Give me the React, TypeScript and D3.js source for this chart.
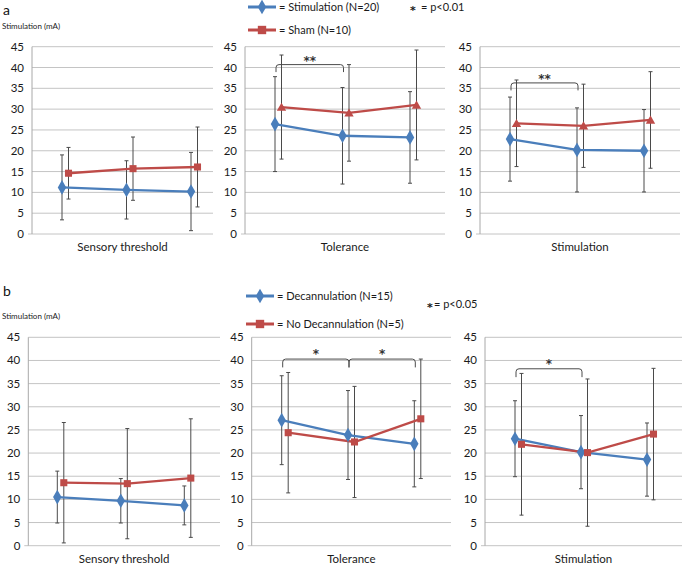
import React from "react";
import * as d3 from "d3";

const categories = ["Sensory threshold", "Tolerance", "Stimulation"];
const yTicks = [0, 5, 10, 15, 20, 25, 30, 35, 40, 45];

// Panel a: Stimulation vs Sham — [panel][timepoint]
const groupsA = ["= Stimulation (N=20)", "= Sham (N=10)"];
const aStimMeans = [[11.2, 10.6, 10.2], [26.4, 23.6, 23.2], [22.8, 20.2, 20.0]];
const aStimSD = [[7.8, 7.0, 9.4], [11.4, 11.6, 11.0], [10.1, 10.1, 9.9]];
const aShamMeans = [[14.6, 15.7, 16.1], [30.5, 29.1, 31.0], [26.6, 26.0, 27.4]];
const aShamSD = [[6.2, 7.6, 9.6], [12.5, 11.6, 13.2], [10.4, 10.0, 11.6]];
const aSigText = "= p<0.01";

// Panel b: Decannulation vs No decannulation
const groupsB = ["= Decannulation (N=15)", "= No Decannulation (N=5)"];
const bDecMeans = [[10.5, 9.7, 8.7], [27.1, 23.9, 22.0], [23.1, 20.2, 18.6]];
const bDecSD = [[5.6, 4.8, 4.2], [9.6, 9.6, 9.3], [8.2, 7.9, 7.9]];
const bNoMeans = [[13.6, 13.4, 14.6], [24.4, 22.4, 27.4], [21.9, 20.1, 24.1]];
const bNoSD = [[13.0, 11.9, 12.8], [13.0, 12.0, 12.9], [15.3, 15.9, 14.2]];
const bSigText = "= p<0.05";

// significance brackets: subplot, from/to timepoint, level, label
const aBrackets = [
  { sub: 1, from: 0, to: 1, level: 40.7, label: "**" },
  { sub: 2, from: 0, to: 1, level: 36.3, label: "**" },
];
const bBrackets = [
  { sub: 1, from: 0, to: 1, level: 40.3, label: "*" },
  { sub: 1, from: 1, to: 2, level: 40.3, label: "*" },
  { sub: 2, from: 0, to: 1, level: 38.2, label: "*" },
];

const BLUE = "#4A7EBB";
const RED = "#BE4B48";
const ERR = "#4a4a4a";
const GRID = "#C4C4C4";
const FONT = "Lato, 'Open Sans', sans-serif";
const STAR_FONT = "'DejaVu Sans', sans-serif";

type Sub = { left: number; right: number; start: number; step: number };

const layoutA = {
  top: 46.7,
  bottom: 234,
  subs: [
    { left: 32, right: 213, start: 30, step: 64.5 },
    { left: 245, right: 445, start: 30, step: 67.5 },
    { left: 480, right: 680, start: 30, step: 67 },
  ] as Sub[],
  redShapes: ["square", "triangle", "triangle"],
};
const layoutB = {
  top: 337.3,
  bottom: 545.7,
  subs: [
    { left: 28.3, right: 220, start: 29, step: 63.5 },
    { left: 251.7, right: 451, start: 30, step: 66.3 },
    { left: 485, right: 682, start: 30, step: 66 },
  ] as Sub[],
  redShapes: ["square", "square", "square"],
};
const RED_OFFSET = 6.5;

const diamond = d3.symbol().type(d3.symbolDiamond).size(62)()!;
const square = d3.symbol().type(d3.symbolSquare).size(50)()!;
const triangle = d3.symbol().type(d3.symbolTriangle).size(38)()!;

function Subplot({
  sub, top, bottom, blueM, blueSD, redM, redSD, redShape, catLabel, brackets,
}: any) {
  const y = d3.scaleLinear().domain([0, 45]).range([bottom, top]);
  const xb = d3.scaleLinear().domain([0, 2]).range([sub.left + sub.start, sub.left + sub.start + 2 * sub.step]);
  const xr = (i: number) => xb(i) + RED_OFFSET;
  const line = (xf: (i: number) => number) =>
    d3.line<number>().x((_, i) => xf(i)).y((v) => y(v));
  const cap = 2;
  const err = (xf: (i: number) => number, m: number[], sd: number[], key: string) =>
    m.map((v, i) => {
      const x = xf(i);
      const y1 = y(v + sd[i]);
      const y0 = y(Math.max(0, v - sd[i]));
      return (
        <g key={key + i} stroke={ERR} strokeWidth={1}>
          <line x1={x} x2={x} y1={y1} y2={y0} />
          <line x1={x - cap} x2={x + cap} y1={y1} y2={y1} />
          <line x1={x - cap} x2={x + cap} y1={y0} y2={y0} />
        </g>
      );
    });
  const redPath = redShape === "triangle" ? triangle : square;
  return (
    <g>
      {yTicks.map((t) => (
        <g key={t}>
          <line x1={sub.left} x2={sub.right} y1={y(t)} y2={y(t)} stroke={GRID} strokeWidth={1} />
          <text x={sub.left - 8} y={y(t)} dy="0.35em" textAnchor="end" fontSize={11.5} fill="#1a1a1a" fontFamily={FONT}>
            {t}
          </text>
        </g>
      ))}
      <line x1={sub.left - 4} x2={sub.left} y1={y(0)} y2={y(0)} stroke={GRID} />
      <line x1={sub.left} x2={sub.left} y1={y(45)} y2={y(0)} stroke="#A8A8A8" strokeWidth={1} />
      <text x={(sub.left + sub.right) / 2} y={bottom + 17} textAnchor="middle" fontSize={11.5} fill="#1a1a1a" fontFamily={FONT}>
        {catLabel}
      </text>
      {err(xb, blueM, blueSD, "b")}
      {err(xr, redM, redSD, "r")}
      <path d={line(xb)(blueM)!} fill="none" stroke={BLUE} strokeWidth={2.3} />
      <path d={line(xr)(redM)!} fill="none" stroke={RED} strokeWidth={2.3} />
      {blueM.map((v: number, i: number) => (
        <path key={"bm" + i} d={diamond} transform={`translate(${xb(i)},${y(v)})`} fill={BLUE} />
      ))}
      {redM.map((v: number, i: number) => (
        <path key={"rm" + i} d={redPath} transform={`translate(${xr(i)},${y(v) + (redShape === "triangle" ? 1 : 0)})`} fill={RED} />
      ))}
      {brackets.map((b: any, k: number) => {
        const x1 = xb(b.from) + 1;
        const x2 = xb(b.to) + 1;
        const yl = y(b.level);
        const yt = y(b.level - 1.8);
        const r = 3;
        const d = `M${x1},${yt} L${x1},${yl + r} Q${x1},${yl} ${x1 + r},${yl} L${x2 - r},${yl} Q${x2},${yl} ${x2},${yl + r} L${x2},${yt}`;
        return (
          <g key={"br" + k}>
            <path d={d} fill="none" stroke={ERR} strokeWidth={1} />
            <text x={(x1 + x2) / 2} y={y(b.level + 1.6)} dy="0.55em" textAnchor="middle" fontSize={12} fontWeight="bold" fill="#333" fontFamily={STAR_FONT}>
              {b.label}
            </text>
          </g>
        );
      })}
    </g>
  );
}

function Panel({ layout, blueM, blueSD, redM, redSD, brackets }: any) {
  return (
    <g>
      {layout.subs.map((sub: Sub, p: number) => (
        <Subplot
          key={p}
          sub={sub}
          top={layout.top}
          bottom={layout.bottom}
          blueM={blueM[p]}
          blueSD={blueSD[p]}
          redM={redM[p]}
          redSD={redSD[p]}
          redShape={layout.redShapes[p]}
          catLabel={categories[p]}
          brackets={brackets.filter((b: any) => b.sub === p)}
        />
      ))}
    </g>
  );
}

function Legend({ x, y1, y2, labels, sigX, sigY, sigText, starGap }: any) {
  return (
    <g fontFamily={FONT} fontSize={11} fill="#1a1a1a">
      <line x1={x} x2={x + 28} y1={y1} y2={y1} stroke={BLUE} strokeWidth={3} />
      <path d={diamond} transform={`translate(${x + 14},${y1})`} fill={BLUE} />
      <text x={x + 31} y={y1} dy="0.35em">{labels[0]}</text>
      <line x1={x} x2={x + 28} y1={y2} y2={y2} stroke={RED} strokeWidth={3} />
      <path d={d3.symbol().type(d3.symbolSquare).size(70)()!} transform={`translate(${x + 14},${y2})`} fill={RED} />
      <text x={x + 31} y={y2} dy="0.35em">{labels[1]}</text>
      <text x={sigX} y={sigY} dy="0.6em" fontFamily={STAR_FONT} fontWeight="bold" fontSize={11}>*</text>
      <text x={sigX + starGap} y={sigY} dy="0.35em">{sigText}</text>
    </g>
  );
}

export default function App() {
  return (
    <svg width={685} height={564} style={{ position: "absolute", left: 0, top: 0, background: "#fff" }}>
      <rect width={685} height={564} fill="#fff" />
      <text x={3} y={15} fontSize={14} fontFamily={FONT} fill="#111">a</text>
      <text x={2} y={29} fontSize={8} fontFamily={FONT} fill="#1a1a1a">Stimulation (mA)</text>
      <Legend x={248} y1={7} y2={30} labels={groupsA} sigX={410} sigY={7} sigText={aSigText} starGap={11} />
      <Panel layout={layoutA} blueM={aStimMeans} blueSD={aStimSD} redM={aShamMeans} redSD={aShamSD} brackets={aBrackets} />

      <text x={3} y={296} fontSize={14} fontFamily={FONT} fill="#111">b</text>
      <text x={2} y={319} fontSize={8} fontFamily={FONT} fill="#1a1a1a">Stimulation (mA)</text>
      <Legend x={246} y1={296} y2={324} labels={groupsB} sigX={427} sigY={304} sigText={bSigText} starGap={7} />
      <Panel layout={layoutB} blueM={bDecMeans} blueSD={bDecSD} redM={bNoMeans} redSD={bNoSD} brackets={bBrackets} />
    </svg>
  );
}
